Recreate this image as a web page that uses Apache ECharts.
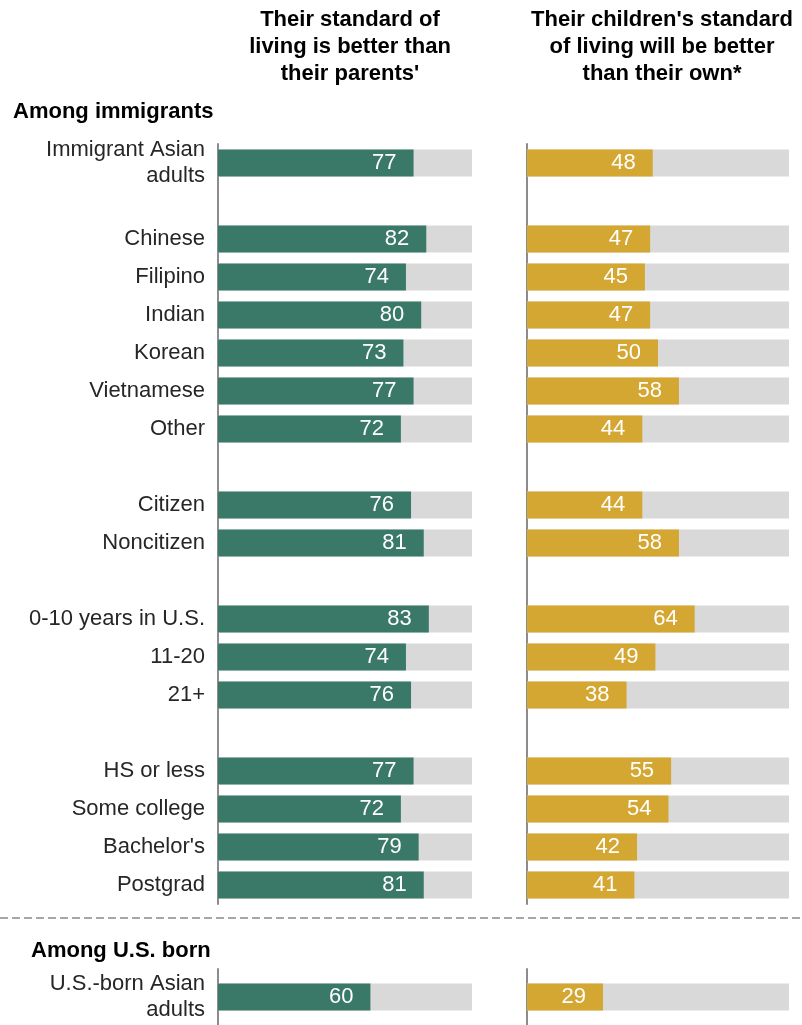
<!DOCTYPE html>
<html>
<head>
<meta charset="utf-8">
<script src="https://cdn.jsdelivr.net/npm/echarts@6/dist/echarts.min.js"></script>
<style>
  html, body { margin: 0; padding: 0; background: #ffffff; }
  #chart { width: 802px; height: 1025px; }
</style>
</head>
<body>
<div id="chart"></div>
<script>
// Rows among immigrants; empty strings / nulls are the spacer rows between groups
const immigrantCategories = [
  'Immigrant Asian\nadults', '',
  'Chinese', 'Filipino', 'Indian', 'Korean', 'Vietnamese', 'Other', '',
  'Citizen', 'Noncitizen', '',
  '0-10 years in U.S.', '11-20', '21+', '',
  'HS or less', 'Some college', "Bachelor's", 'Postgrad'
];
const immigrantBetterThanParents = [77, null, 82, 74, 80, 73, 77, 72, null, 76, 81, null, 83, 74, 76, null, 77, 72, 79, 81];
const immigrantChildrenBetter   = [48, null, 47, 45, 47, 50, 58, 44, null, 44, 58, null, 64, 49, 38, null, 55, 54, 42, 41];

const usBornCategories = ['U.S.-born Asian\nadults'];
const usBornBetterThanParents = [60];
const usBornChildrenBetter = [29];

const headerLeft = 'Their standard of\nliving is better than\ntheir parents\'';
const headerRight = 'Their children\'s standard\nof living will be better\nthan their own*';
const sectionImmigrants = 'Among immigrants';
const sectionUsBorn = 'Among U.S. born';

const GREEN = '#3a7967';
const GOLD = '#d4a732';
const TRACK = '#d9d9d9';
const AXIS = '#8c8c8c';
const FONT = '"Liberation Sans", Arial, sans-serif';

const chart = echarts.init(document.getElementById('chart'), null, { renderer: 'canvas' });

function track(values) {
  return values.map(v => (v == null ? null : 100));
}

function yAxisFor(gridIndex, cats, showLabels) {
  return {
    type: 'category', gridIndex, data: cats, inverse: true,
    axisLine: { show: true, lineStyle: { color: AXIS, width: 2 } },
    axisTick: { show: false },
    splitLine: { show: false },
    axisLabel: {
      show: showLabels, margin: 13, color: '#262626', fontSize: 22,
      fontFamily: FONT, lineHeight: 26, align: 'right'
    }
  };
}

function xAxisFor(gridIndex) {
  return { type: 'value', gridIndex, min: 0, max: 100, show: false };
}

function barPair(idx, values, color) {
  return [
    {
      type: 'bar', xAxisIndex: idx, yAxisIndex: idx, data: track(values),
      barWidth: 27, barGap: '-100%', silent: true,
      itemStyle: { color: TRACK }, z: 1
    },
    {
      type: 'bar', xAxisIndex: idx, yAxisIndex: idx, data: values,
      barWidth: 27, barGap: '-100%', z: 2,
      itemStyle: { color },
      label: {
        show: true, position: 'insideRight', distance: 17,
        color: '#ffffff', fontSize: 22, fontFamily: FONT, formatter: '{c}'
      }
    }
  ];
}

const boldText = { fontSize: 22, fontWeight: 'bold', color: '#000', fontFamily: FONT };

const option = {
  animation: false,
  backgroundColor: '#ffffff',
  title: [
    { text: headerLeft, left: 345, top: 1, textAlign: 'center',
      textStyle: Object.assign({ lineHeight: 27, align: 'center' }, boldText) },
    { text: headerRight, left: 657, top: 1, textAlign: 'center',
      textStyle: Object.assign({ lineHeight: 27, align: 'center' }, boldText) },
    { text: sectionImmigrants, left: 8, top: 96, textStyle: boldText },
    { text: sectionUsBorn, left: 26, top: 935, textStyle: boldText }
  ],
  grid: [
    { left: 218, top: 144, width: 254, height: 760 },
    { left: 527, top: 144, width: 262, height: 760 },
    { left: 218, top: 969, width: 254, height: 56 },
    { left: 527, top: 969, width: 262, height: 56 }
  ],
  xAxis: [xAxisFor(0), xAxisFor(1), xAxisFor(2), xAxisFor(3)],
  yAxis: [
    yAxisFor(0, immigrantCategories, true),
    yAxisFor(1, immigrantCategories, false),
    yAxisFor(2, usBornCategories, true),
    yAxisFor(3, usBornCategories, false)
  ],
  series: [
    ...barPair(0, immigrantBetterThanParents, GREEN),
    ...barPair(1, immigrantChildrenBetter, GOLD),
    ...barPair(2, usBornBetterThanParents, GREEN),
    ...barPair(3, usBornChildrenBetter, GOLD)
  ],
  graphic: [
    {
      type: 'line', silent: true,
      shape: { x1: 0, y1: 918, x2: 802, y2: 918 },
      style: { stroke: '#a6a6a6', lineWidth: 2, lineDash: [8, 4] }
    }
  ]
};

chart.setOption(option);
</script>
</body>
</html>
